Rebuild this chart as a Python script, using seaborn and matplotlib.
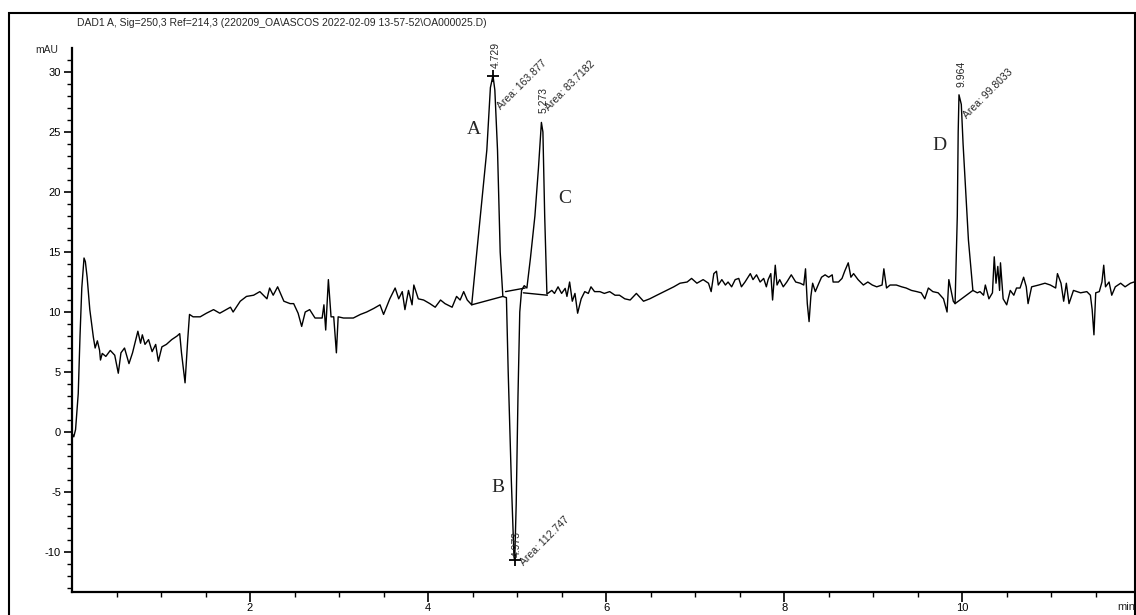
# HPLC chromatogram (DAD1 A, 250 nm) redrawn with seaborn
import numpy as np
import pandas as pd
import matplotlib
matplotlib.use("Agg")
import matplotlib.pyplot as plt
import seaborn as sns
from matplotlib.patches import Rectangle

# data
time_min = [0.00, 0.02, 0.04, 0.07, 0.09, 0.11, 0.135, 0.15, 0.17, 0.20, 0.24, 0.26, 0.285, 0.31, 0.32,
            0.34, 0.38, 0.43, 0.48, 0.52, 0.55, 0.59, 0.64, 0.68, 0.74, 0.77, 0.79, 0.82, 0.86, 0.90,
            0.94, 0.97, 1.01, 1.06, 1.12, 1.18, 1.21, 1.23, 1.27, 1.30, 1.32, 1.36, 1.44, 1.51, 1.59,
            1.66, 1.78, 1.81, 1.89, 1.96, 2.04, 2.11, 2.19, 2.22, 2.26, 2.31, 2.38, 2.45, 2.49, 2.54,
            2.58, 2.62, 2.67, 2.73, 2.81, 2.83, 2.85, 2.88, 2.91, 2.94, 2.97, 2.99, 3.05, 3.16, 3.24,
            3.31, 3.39, 3.46, 3.50, 3.57, 3.63, 3.67, 3.71, 3.74, 3.78, 3.82, 3.84, 3.89, 3.95, 4.02,
            4.08, 4.14, 4.19, 4.27, 4.32, 4.36, 4.40, 4.44, 4.49,
            4.55, 4.66, 4.70, 4.729, 4.75, 4.78, 4.81, 4.84,
            4.88, 4.90, 4.935, 4.965, 4.973, 4.99, 5.01, 5.03, 5.05, 5.08,
            5.11, 5.15, 5.20, 5.24, 5.273, 5.29, 5.31, 5.335,
            5.39, 5.42, 5.46, 5.50, 5.54, 5.56, 5.59, 5.62, 5.65, 5.68, 5.72, 5.76, 5.80, 5.83, 5.87,
            5.93, 5.98, 6.04, 6.10, 6.15, 6.21, 6.27, 6.34, 6.42, 6.49, 6.57, 6.68, 6.76, 6.83, 6.91,
            6.96, 7.02, 7.09, 7.15, 7.18, 7.21, 7.24, 7.26, 7.30, 7.34, 7.37, 7.41, 7.45, 7.49, 7.52,
            7.56, 7.62, 7.65, 7.69, 7.73, 7.77, 7.80, 7.82, 7.85, 7.87, 7.90, 7.92, 7.95, 7.99, 8.03,
            8.08, 8.13, 8.18, 8.22, 8.24, 8.26, 8.28, 8.30, 8.32, 8.35, 8.39, 8.42, 8.46, 8.50, 8.54,
            8.55, 8.61, 8.65, 8.68, 8.72, 8.75, 8.78, 8.83, 8.89, 8.94, 8.99, 9.04, 9.10, 9.12, 9.15,
            9.19, 9.26, 9.32, 9.37, 9.43, 9.49, 9.54, 9.58, 9.62, 9.67, 9.73, 9.79, 9.83, 9.85, 9.88,
            9.90, 9.92,
            9.945, 9.955, 9.964, 9.99, 10.01, 10.04, 10.07, 10.12,
            10.17, 10.20, 10.24, 10.26, 10.30, 10.34, 10.36, 10.38, 10.40, 10.42, 10.43, 10.46, 10.50,
            10.54, 10.58, 10.61, 10.65, 10.69, 10.72, 10.74, 10.78, 10.86, 10.93, 10.99, 11.05, 11.07,
            11.11, 11.14, 11.17, 11.20, 11.25, 11.33, 11.40, 11.44, 11.46, 11.48, 11.50, 11.54, 11.57,
            11.59, 11.61, 11.65, 11.68, 11.72, 11.78, 11.83, 11.89, 11.93]
signal_mau = [-0.1, -0.4, 0.2, 3.2, 8.0, 12.0, 14.5, 14.2, 12.9, 10.2, 7.9, 7.0, 7.6, 6.8, 6.0,
              6.55, 6.3, 6.8, 6.4, 4.9, 6.6, 7.0, 5.7, 6.6, 8.4, 7.4, 8.1, 7.3, 7.7, 6.7,
              7.3, 5.9, 7.1, 7.3, 7.7, 8.0, 8.2, 6.6, 4.1, 7.7, 9.8, 9.6, 9.6, 9.9, 10.2,
              9.9, 10.4, 10.0, 10.9, 11.3, 11.4, 11.7, 11.1, 12.0, 11.4, 12.1, 10.9, 10.7, 10.7, 9.9,
              8.8, 10.0, 10.2, 9.5, 9.5, 10.6, 8.5, 12.7, 9.6, 9.6, 6.6, 9.6, 9.5, 9.5, 9.8,
              10.0, 10.3, 10.6, 9.8, 11.1, 12.0, 11.1, 11.7, 10.2, 11.8, 10.6, 12.25, 11.1, 11.0, 10.7,
              10.4, 11.0, 10.7, 10.4, 11.3, 11.0, 11.7, 11.0, 10.6,
              15.2, 23.5, 28.7, 29.7, 28.5, 23.5, 15.0, 11.3,
              11.2, 5.0, -4.0, -10.4, -10.7, -6.0, 3.0, 10.0, 11.8, 12.2,
              12.0, 14.5, 18.0, 22.0, 25.8, 25.0, 18.0, 11.5,
              11.8, 11.55, 12.1, 11.55, 11.97, 11.3, 12.5, 10.9, 11.55, 9.9, 11.1, 11.7, 11.55, 12.1, 11.7,
              11.7, 11.55, 11.7, 11.4, 11.4, 11.1, 11.0, 11.55, 10.9, 11.1, 11.4, 11.8, 12.1, 12.4, 12.5,
              12.8, 12.4, 12.7, 12.4, 11.7, 13.2, 13.4, 12.25, 12.7, 12.25, 12.5, 12.1, 12.7, 12.8, 12.1,
              12.5, 13.2, 12.7, 13.1, 12.5, 12.8, 12.1, 12.7, 13.2, 11.0, 13.9, 12.25, 12.7, 12.1, 12.5,
              13.1, 12.5, 12.4, 12.25, 13.6, 10.7, 9.2, 11.3, 12.4, 11.7, 12.4, 12.9, 13.1, 12.9, 13.1,
              12.5, 12.5, 12.8, 13.4, 14.1, 12.9, 13.2, 12.7, 12.25, 12.5, 12.25, 12.1, 12.25, 13.6, 12.0,
              12.25, 12.25, 12.1, 12.0, 11.8, 11.7, 11.6, 11.1, 12.0, 11.7, 11.6, 11.1, 10.0, 12.7, 11.6,
              10.9, 10.7,
              18.0, 25.0, 28.1, 27.3, 24.0, 20.0, 16.0, 11.8,
              11.6, 11.7, 11.4, 12.25, 11.1, 11.6, 14.6, 12.4, 13.8, 11.8, 14.1, 11.1, 10.6,
              11.8, 11.4, 12.0, 12.0, 12.9, 12.1, 10.7, 12.1, 12.25, 12.4, 12.25, 12.0, 13.2,
              12.4, 10.9, 12.4, 10.7, 11.8, 11.6, 11.7, 11.4, 10.2, 8.1, 11.6, 11.7, 12.5,
              13.9, 12.1, 12.5, 11.4, 12.1, 12.4, 12.1, 12.4, 12.5]

# integrated peaks
peak_names = ["A", "B", "C", "D"]
peak_rt = [4.729, 4.973, 5.273, 9.964]
peak_apex = [29.7, -10.7, 25.8, 28.1]
peak_area = ["163.877", "112.747", "83.7182", "99.8033"]

# drawn integration baselines (start / end of each peak)
base_t0 = [4.49, 4.87, 5.07, 9.92]
base_v0 = [10.6, 11.7, 11.6, 10.7]
base_t1 = [4.84, 5.09, 5.34, 10.12]
base_v1 = [11.3, 12.0, 11.4, 11.8]

title = "DAD1 A, Sig=250,3 Ref=214,3 (220209_OA\\ASCOS 2022-02-09 13-57-52\\OA000025.D)"

df = pd.DataFrame({"time": time_min, "signal": signal_mau})

sns.set_style("ticks")
plt.rcParams["font.family"] = ["Liberation Sans", "DejaVu Sans"]
plt.rcParams["axes.unicode_minus"] = False

W, H = 1136, 615
fig = plt.figure(figsize=(W / 100, H / 100), dpi=100)
ax = fig.add_axes([72 / W, 1 - 592 / H, 1062 / W, 544 / H])

sns.lineplot(data=df, x="time", y="signal", ax=ax, color="black", lw=1.0,
             sort=False, estimator=None)

# integration baselines
for i in range(len(base_t0)):
    ax.plot([base_t0[i], base_t1[i]], [base_v0[i], base_v1[i]], color="black", lw=1.0)

# apex markers on A and B
ax.plot(peak_rt[:2], peak_apex[:2], ls="none", marker="+", ms=9, mew=1.3, color="black")

# retention time and area labels, offsets from the apex
rt_off = [(0.03, 0.6), (0.028, 0.3), (0.027, 0.8), (0.026, 0.65)]
area_off = [(0.11, -3.0), (0.12, -0.55), (0.10, 0.8), (0.11, -2.1)]
for i in range(len(peak_rt)):
    ax.text(peak_rt[i] + rt_off[i][0], peak_apex[i] + rt_off[i][1], f"{peak_rt[i]:.3f}",
            rotation=90, ha="center", va="bottom", fontsize=7.5)
    ax.text(peak_rt[i] + area_off[i][0], peak_apex[i] + area_off[i][1], "Area: " + peak_area[i],
            rotation=45, rotation_mode="anchor", ha="left", va="bottom", fontsize=7.5)

# peak letters
letter_pos = [(4.52, 25.2), (4.78, -4.6), (5.54, 19.5), (9.75, 23.9)]
for name, (x, y) in zip(peak_names, letter_pos):
    ax.text(x, y, name, ha="center", va="center", fontsize=14,
            family=["Liberation Serif", "DejaVu Serif"])

ax.set_xlim(0, 11.93)
ax.set_ylim(-13.33, 32.0)
ax.set_xticks([2, 4, 6, 8, 10])
ax.set_xticks(np.arange(0.5, 11.9, 0.5), minor=True)
ax.set_yticks([-10, -5, 0, 5, 10, 15, 20, 25, 30])
ax.set_yticks(np.arange(-13, 32, 1), minor=True)
ax.set_xlabel("")
ax.set_ylabel("")
ax.tick_params(axis="both", which="major", labelsize=8, width=1.2, color="black",
               labelcolor="black", direction="out")
ax.tick_params(axis="y", which="major", length=6, pad=2)
ax.tick_params(axis="x", which="major", length=7, pad=1)
ax.tick_params(axis="both", which="minor", length=3.5, width=1.0, color="black")
sns.despine(ax=ax)
for side in ["left", "bottom"]:
    ax.spines[side].set_linewidth(1.6)
    ax.spines[side].set_color("black")

fig.text(77 / W, 1 - 23 / H, title, ha="left", va="center", fontsize=7.5)
fig.text(35 / W, 1 - 50 / H, "mAU", ha="left", va="center", fontsize=7.5)
fig.text(1117 / W, 1 - 607 / H, "min", ha="left", va="center", fontsize=8)

# outer frame of the printout
fig.patches.append(Rectangle((9 / W, -0.05), 1125.5 / W, 1.05 - 13 / H, transform=fig.transFigure,
                             fill=False, edgecolor="black", lw=1.5))

fig.savefig("out.png", dpi=100)
